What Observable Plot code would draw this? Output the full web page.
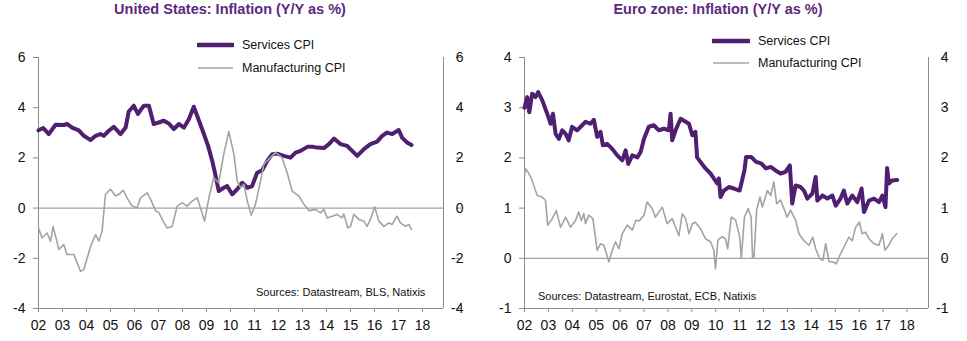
<!DOCTYPE html>
<html>
<head>
<meta charset="utf-8">
<script src="https://cdn.jsdelivr.net/npm/d3@7"></script>
<script src="https://cdn.jsdelivr.net/npm/@observablehq/plot@0.6"></script>
<style>
  html, body { margin: 0; padding: 0; background: #fff; }
  #root { position: relative; width: 967px; height: 341px; overflow: hidden; font-family: "Liberation Sans", Arial, sans-serif; }
  .panel { position: absolute; top: 0; height: 341px; }
  .title { position: absolute; top: 1px; font-weight: bold; font-size: 14.5px; color: #5a2a80; white-space: nowrap; transform: translateX(-50%); }
  .plot { position: absolute; top: 47px; left: 0; }
  .leg { position: absolute; font-size: 12.5px; color: #111; white-space: nowrap; display: flex; align-items: center; }
  .leg svg { margin-right: 8px; }
  .src { position: absolute; font-size: 11px; color: #111; white-space: nowrap; }
</style>
</head>
<body>
<div id="root"></div>
<script>
// ---------------- data ----------------
const yearTicks = [2002, 2003, 2004, 2005, 2006, 2007, 2008, 2009, 2010, 2011, 2012, 2013, 2014, 2015, 2016, 2017, 2018];
const usTicks = [-4, -2, 0, 2, 4, 6];
const euTicks = [-1, 0, 1, 2, 3, 4];
const seriesNames = ["Services CPI", "Manufacturing CPI"];
const titles = ["United States: Inflation (Y/Y as %)", "Euro zone: Inflation (Y/Y as %)"];
const sources = ["Sources: Datastream, BLS, Natixis", "Sources: Datastream, Eurostat, ECB, Natixis"];

const usServicesDates = [2002.0, 2002.2, 2002.43, 2002.71, 2003.05, 2003.2, 2003.4, 2003.68, 2003.89, 2004.17, 2004.38, 2004.58, 2004.72, 2004.93, 2005.14, 2005.42, 2005.63, 2005.76, 2005.97, 2006.14, 2006.39, 2006.6, 2006.8, 2007.01, 2007.22, 2007.43, 2007.64, 2007.85, 2008.06, 2008.26, 2008.47, 2008.68, 2008.89, 2009.06, 2009.24, 2009.38, 2009.51, 2009.72, 2009.86, 2010.07, 2010.28, 2010.49, 2010.7, 2010.9, 2011.11, 2011.32, 2011.53, 2011.74, 2011.94, 2012.22, 2012.5, 2012.71, 2012.92, 2013.2, 2013.45, 2013.61, 2013.89, 2014.1, 2014.31, 2014.58, 2014.86, 2015.07, 2015.28, 2015.56, 2015.83, 2016.11, 2016.32, 2016.53, 2016.74, 2017.01, 2017.15, 2017.36, 2017.54];
const usServicesValues = [3.10, 3.19, 2.95, 3.32, 3.31, 3.35, 3.21, 3.10, 2.88, 2.71, 2.88, 2.95, 2.88, 3.08, 3.24, 2.95, 3.21, 3.85, 4.08, 3.75, 4.08, 4.08, 3.35, 3.41, 3.48, 3.37, 3.15, 3.35, 3.21, 3.53, 4.04, 3.50, 2.95, 2.50, 1.88, 1.28, 0.68, 0.81, 0.88, 0.55, 0.75, 1.01, 0.81, 0.88, 1.41, 1.51, 1.88, 2.15, 2.17, 2.08, 2.01, 2.21, 2.28, 2.44, 2.44, 2.41, 2.39, 2.55, 2.77, 2.55, 2.48, 2.28, 2.08, 2.35, 2.55, 2.65, 2.88, 3.01, 2.95, 3.11, 2.81, 2.61, 2.51];

const usManufDates = [2002.0, 2002.15, 2002.36, 2002.5, 2002.61, 2002.85, 2003.05, 2003.19, 2003.47, 2003.75, 2003.89, 2004.17, 2004.38, 2004.51, 2004.65, 2004.79, 2005.0, 2005.21, 2005.35, 2005.53, 2005.69, 2005.9, 2006.11, 2006.25, 2006.53, 2006.67, 2006.88, 2007.01, 2007.22, 2007.36, 2007.57, 2007.78, 2007.99, 2008.19, 2008.4, 2008.61, 2008.75, 2008.92, 2009.1, 2009.3, 2009.51, 2009.72, 2009.93, 2010.14, 2010.28, 2010.42, 2010.56, 2010.7, 2010.86, 2011.04, 2011.25, 2011.39, 2011.6, 2011.875, 2012.15, 2012.36, 2012.57, 2012.85, 2013.06, 2013.27, 2013.54, 2013.75, 2013.89, 2014.03, 2014.24, 2014.44, 2014.65, 2014.72, 2014.89, 2015.0, 2015.14, 2015.35, 2015.56, 2015.69, 2015.83, 2016.01, 2016.18, 2016.39, 2016.6, 2016.74, 2016.94, 2017.08, 2017.29, 2017.43, 2017.54];
const usManufValues = [-0.79, -1.19, -0.99, -1.33, -0.73, -1.65, -1.45, -1.85, -1.85, -2.52, -2.45, -1.52, -1.05, -1.32, -0.92, 0.55, 0.75, 0.48, 0.55, 0.71, 0.41, 0.08, 0.01, 0.41, 0.61, 0.35, -0.11, -0.17, -0.57, -0.79, -0.73, 0.08, 0.21, 0.08, 0.28, 0.41, 0.0, -0.52, 0.41, 1.21, 1.01, 2.15, 3.05, 2.15, 1.08, 0.81, 0.95, 0.28, -0.28, 0.15, 1.08, 1.75, 1.95, 2.21, 2.01, 1.41, 0.68, 0.48, 0.15, -0.11, -0.05, -0.19, -0.05, -0.39, -0.32, -0.25, -0.39, -0.23, -0.79, -0.73, -0.25, -0.45, -0.52, -0.73, -0.45, 0.05, -0.52, -0.73, -0.59, -0.65, -0.32, -0.59, -0.73, -0.65, -0.85];

const euServicesDates = [2002.0, 2002.11, 2002.2, 2002.32, 2002.46, 2002.57, 2002.74, 2002.95, 2003.09, 2003.19, 2003.3, 2003.44, 2003.58, 2003.72, 2003.85, 2003.99, 2004.2, 2004.41, 2004.55, 2004.76, 2004.9, 2005.04, 2005.18, 2005.28, 2005.46, 2005.67, 2005.88, 2006.09, 2006.23, 2006.34, 2006.51, 2006.72, 2006.86, 2007.0, 2007.2, 2007.41, 2007.62, 2007.83, 2008.04, 2008.11, 2008.18, 2008.32, 2008.53, 2008.74, 2008.88, 2009.02, 2009.15, 2009.22, 2009.36, 2009.57, 2009.78, 2010.06, 2010.13, 2010.2, 2010.34, 2010.55, 2010.76, 2011.0, 2011.2, 2011.27, 2011.48, 2011.69, 2011.9, 2012.1, 2012.3, 2012.5, 2012.71, 2012.92, 2013.1, 2013.2, 2013.34, 2013.55, 2013.69, 2013.83, 2014.04, 2014.18, 2014.25, 2014.46, 2014.67, 2014.88, 2015.02, 2015.22, 2015.36, 2015.5, 2015.71, 2015.92, 2016.1, 2016.2, 2016.41, 2016.62, 2016.83, 2016.97, 2017.1, 2017.17, 2017.24, 2017.38, 2017.59];
const euServicesValues = [3.0, 3.21, 2.91, 3.28, 3.21, 3.31, 3.15, 2.88, 2.68, 2.88, 2.48, 2.38, 2.55, 2.48, 2.35, 2.62, 2.55, 2.65, 2.72, 2.68, 2.76, 2.42, 2.52, 2.25, 2.28, 2.18, 2.05, 1.95, 2.15, 1.88, 2.05, 2.01, 2.12, 2.38, 2.62, 2.65, 2.55, 2.58, 2.55, 2.88, 2.35, 2.55, 2.78, 2.72, 2.68, 2.45, 2.52, 2.01, 1.92, 1.79, 1.69, 1.49, 1.59, 1.22, 1.35, 1.42, 1.39, 1.35, 1.75, 2.02, 2.02, 1.92, 1.89, 1.79, 1.82, 1.75, 1.69, 1.72, 1.85, 1.09, 1.45, 1.42, 1.35, 1.19, 1.29, 1.62, 1.15, 1.25, 1.19, 1.25, 1.05, 1.19, 1.35, 1.09, 1.25, 1.12, 1.39, 0.92, 1.15, 1.19, 1.12, 1.25, 1.02, 1.80, 1.49, 1.55, 1.56];

const euManufDates = [2002.0, 2002.04, 2002.18, 2002.32, 2002.53, 2002.74, 2002.88, 2002.97, 2003.16, 2003.33, 2003.51, 2003.72, 2003.92, 2004.13, 2004.27, 2004.38, 2004.48, 2004.55, 2004.69, 2004.86, 2005.04, 2005.18, 2005.32, 2005.53, 2005.67, 2005.81, 2005.95, 2006.09, 2006.3, 2006.51, 2006.65, 2006.81, 2007.0, 2007.13, 2007.34, 2007.48, 2007.62, 2007.76, 2007.97, 2008.18, 2008.32, 2008.46, 2008.6, 2008.74, 2008.88, 2009.02, 2009.15, 2009.36, 2009.57, 2009.78, 2009.92, 2009.99, 2010.09, 2010.27, 2010.41, 2010.5, 2010.65, 2010.83, 2011.0, 2011.07, 2011.2, 2011.36, 2011.48, 2011.54, 2011.6, 2011.71, 2011.85, 2011.95, 2012.16, 2012.3, 2012.43, 2012.55, 2012.71, 2012.99, 2013.13, 2013.34, 2013.48, 2013.69, 2013.9, 2014.06, 2014.18, 2014.34, 2014.48, 2014.6, 2014.74, 2014.88, 2015.04, 2015.22, 2015.43, 2015.57, 2015.71, 2015.85, 2016.01, 2016.13, 2016.27, 2016.41, 2016.62, 2016.83, 2016.97, 2017.08, 2017.24, 2017.38, 2017.57];
const euManufValues = [1.62, 1.79, 1.69, 1.55, 1.25, 1.22, 1.15, 0.66, 0.79, 0.95, 0.62, 0.82, 0.62, 0.75, 0.92, 0.75, 0.89, 0.69, 0.86, 0.79, 0.16, 0.29, 0.26, -0.07, 0.16, 0.33, 0.19, 0.49, 0.66, 0.56, 0.75, 0.75, 0.86, 1.12, 0.99, 0.82, 0.92, 1.02, 0.69, 0.79, 0.62, 0.45, 0.89, 0.79, 0.49, 0.69, 0.72, 0.59, 0.39, 0.33, 0.16, -0.21, 0.36, 0.43, 0.39, 0.19, 0.82, 0.76, 0.43, 0.01, 0.82, 0.99, 0.82, 0.0, 0.03, 0.96, 1.22, 1.02, 1.35, 1.25, 1.52, 1.09, 1.16, 0.82, 0.96, 0.76, 0.49, 0.35, 0.26, 0.42, 0.19, 0.0, -0.04, 0.29, -0.07, -0.07, -0.11, 0.09, 0.29, 0.42, 0.35, 0.62, 0.72, 0.49, 0.52, 0.39, 0.29, 0.26, 0.49, 0.16, 0.26, 0.39, 0.49];

// ---------------- styling ----------------
const purple = "#4f1f72";
const grey = "#a3a3a3";
const axisGrey = "#8c8c8c";

function toRows(dates, values) {
  return dates.map((d, i) => ({date: d, value: values[i]}));
}

function makePlot({width, marginLeft, marginRight, xMax, yDomain, yTicks, services, manuf}) {
  return Plot.plot({
    width,
    height: 291,
    marginTop: 10,
    marginBottom: 30,
    marginLeft,
    marginRight,
    style: {fontFamily: "'Liberation Sans', Arial, sans-serif", fontSize: "14px", color: "#111", background: "transparent", overflow: "visible"},
    x: {type: "linear", domain: [2002, xMax]},
    y: {domain: yDomain},
    marks: [
      Plot.ruleY([0], {stroke: axisGrey, strokeWidth: 1}),
      Plot.ruleY([yDomain[0]], {stroke: axisGrey, strokeWidth: 1}),
      Plot.ruleX([2002, xMax], {stroke: axisGrey, strokeWidth: 1}),
      Plot.axisX({ticks: yearTicks, tickFormat: d => String(d % 100).padStart(2, "0"), tickSize: 4, tickPadding: 8, stroke: axisGrey, fill: "#111", label: null}),
      Plot.axisY({anchor: "left", ticks: yTicks, tickFormat: d => String(d), tickSize: 5, tickPadding: 8, stroke: axisGrey, fill: "#111", label: null}),
      Plot.axisY({anchor: "right", ticks: yTicks, tickFormat: d => String(d), tickSize: 5, tickPadding: 3, textAnchor: "end", dx: 12, stroke: axisGrey, fill: "#111", label: null}),
      Plot.line(services, {x: "date", y: "value", stroke: purple, strokeWidth: 4, strokeLinejoin: "round", strokeLinecap: "round"}),
      Plot.line(manuf, {x: "date", y: "value", stroke: grey, strokeWidth: 1.6, strokeLinejoin: "round"})
    ]
  });
}

function legendItem(text, color, w, lineLen) {
  const div = document.createElement("div");
  div.className = "leg";
  div.innerHTML = `<svg width="${lineLen}" height="8"><line x1="1" x2="${lineLen - 1}" y1="4" y2="4" stroke="${color}" stroke-width="${w}" stroke-linecap="${w > 2 ? "round" : "butt"}"/></svg><span>${text}</span>`;
  return div;
}

function buildPanel({left, width, title, titleX, plotOpts, legX, legY1, legY2, lineLen, srcText, srcX, srcY}) {
  const panel = document.createElement("div");
  panel.className = "panel";
  panel.style.left = left + "px";
  panel.style.width = width + "px";

  const t = document.createElement("div");
  t.className = "title";
  t.style.left = titleX + "px";
  t.textContent = title;
  panel.appendChild(t);

  const p = makePlot(plotOpts);
  const wrap = document.createElement("div");
  wrap.className = "plot";
  wrap.appendChild(p);
  panel.appendChild(wrap);

  const l1 = legendItem(seriesNames[0], purple, 4.5, lineLen);
  l1.style.left = legX + "px"; l1.style.top = (legY1 - 8) + "px";
  const l2 = legendItem(seriesNames[1], grey, 1.6, lineLen);
  l2.style.left = legX + "px"; l2.style.top = (legY2 - 8) + "px";
  panel.appendChild(l1);
  panel.appendChild(l2);

  const s = document.createElement("div");
  s.className = "src";
  s.style.left = srcX + "px";
  s.style.top = (srcY - 7) + "px";
  s.textContent = srcText;
  panel.appendChild(s);
  return panel;
}

const root = document.getElementById("root");

root.appendChild(buildPanel({
  left: 0, width: 482, title: titles[0], titleX: 230,
  plotOpts: {width: 480, marginLeft: 38, marginRight: 37, xMax: 2018.875, yDomain: [-4, 6], yTicks: usTicks,
    services: toRows(usServicesDates, usServicesValues), manuf: toRows(usManufDates, usManufValues)},
  legX: 197, legY1: 46, legY2: 69, lineLen: 37,
  srcText: sources[0], srcX: 256, srcY: 293
}));

root.appendChild(buildPanel({
  left: 485, width: 482, title: titles[1], titleX: 233,
  plotOpts: {width: 482, marginLeft: 39, marginRight: 39, xMax: 2018.9, yDomain: [-1, 4], yTicks: euTicks,
    services: toRows(euServicesDates, euServicesValues), manuf: toRows(euManufDates, euManufValues)},
  legX: 227, legY1: 42, legY2: 64, lineLen: 38,
  srcText: sources[1], srcX: 53, srcY: 297
}));
</script>
</body>
</html>
